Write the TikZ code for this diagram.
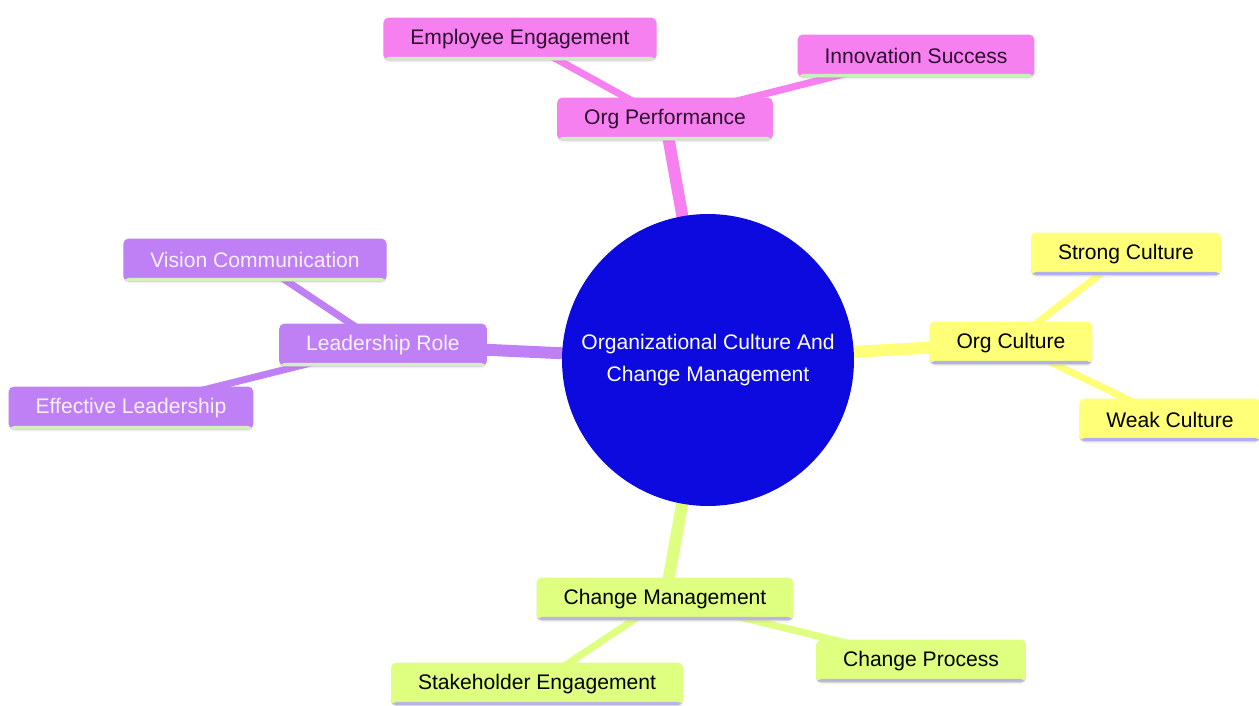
\documentclass[tikz,border=0pt]{standalone}
\usepackage{fontspec}
\setmainfont{Liberation Sans}
\usetikzlibrary{backgrounds, shadows}

\definecolor{rootblue}{RGB}{12,10,222}
\definecolor{perffill}{RGB}{247,128,240}
\definecolor{perfline}{RGB}{200,240,190}
\definecolor{perftext}{RGB}{45,12,45}
\definecolor{cultfill}{RGB}{255,255,120}
\definecolor{cultline}{RGB}{176,176,238}
\definecolor{leadfill}{RGB}{192,128,245}
\definecolor{leadline}{RGB}{212,240,192}
\definecolor{leadtext}{RGB}{246,240,255}
\definecolor{chgfill}{RGB}{223,255,128}
\definecolor{chgline}{RGB}{186,178,232}

\begin{document}
\begin{tikzpicture}[x=0.02cm, y=-0.02cm,
    topic/.style={rounded corners=3pt, inner xsep=0.54cm, minimum height=0.86cm,
      font=\fontsize{12}{14}\selectfont,
      drop shadow={opacity=0.12, shadow xshift=0pt, shadow yshift=-1pt},
      path picture={\fill[#1] ([yshift=0.07cm]path picture bounding box.south west)
        rectangle (path picture bounding box.south east);}},
    perfbox/.style={topic=perfline, fill=perffill, text=perftext},
    cultbox/.style={topic=cultline, fill=cultfill, text=black},
    leadbox/.style={topic=leadline, fill=leadfill, text=leadtext},
    chgbox/.style={topic=chgline, fill=chgfill, text=black},
    trunk/.style={line width=6.8pt},
    twig/.style={line width=4pt}]
  \useasboundingbox (0,0) rectangle (1259,706);

  % Central topic
  \node[circle, fill=rootblue, minimum size=5.84cm, text=white, align=center,
    font=\fontsize{12}{18}\selectfont] (root) at (708,360)
    {Organizational Culture And\\Change Management};

  % Org Performance branch
  \node[perfbox] (perf) at (665,119) {Org Performance};
  \node[perfbox] (engage) at (520,39) {Employee Engagement};
  \node[perfbox] (innov) at (916,56) {Innovation Success};

  % Org Culture branch
  \node[cultbox] (cult) at (1011,343) {Org Culture};
  \node[cultbox] (strong) at (1126,254) {Strong Culture};
  \node[cultbox] (weak) at (1170,420) {Weak Culture};

  % Leadership branch
  \node[leadbox] (lead) at (383,345) {Leadership Role};
  \node[leadbox] (vision) at (255,260) {Vision Communication};
  \node[leadbox] (effect) at (131,408) {Effective Leadership};

  % Change Management branch
  \node[chgbox] (chg) at (665,599) {Change Management};
  \node[chgbox] (stake) at (537,684) {Stakeholder Engagement};
  \node[chgbox] (proc) at (921,661) {Change Process};

  % Connectors
  \begin{scope}[on background layer]
    \draw[perffill, trunk] (root.center) -- (perf.center);
    \draw[perffill, twig] (perf.center) -- (engage.center);
    \draw[perffill, twig] (perf.center) -- (innov.center);
    \draw[cultfill, trunk] (root.center) -- (cult.center);
    \draw[cultfill, twig] (cult.center) -- (strong.center);
    \draw[cultfill, twig] (cult.center) -- (weak.center);
    \draw[leadfill, trunk] (root.center) -- (lead.center);
    \draw[leadfill, twig] (lead.center) -- (vision.center);
    \draw[leadfill, twig] (lead.center) -- (effect.center);
    \draw[chgfill, trunk] (root.center) -- (chg.center);
    \draw[chgfill, twig] (chg.center) -- (stake.center);
    \draw[chgfill, twig] (chg.center) -- (proc.center);
  \end{scope}
\end{tikzpicture}
\end{document}
